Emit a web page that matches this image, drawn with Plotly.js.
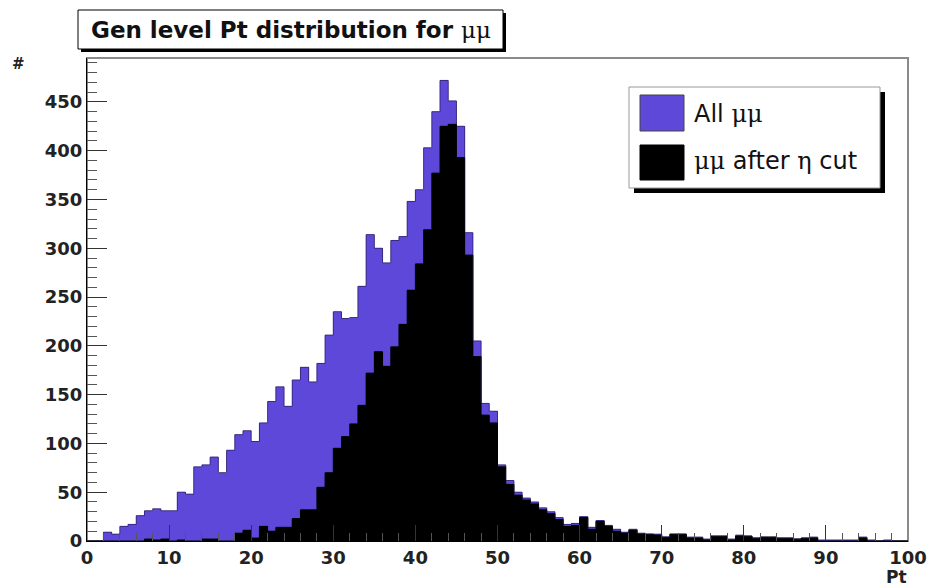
<!DOCTYPE html>
<html>
<head>
<meta charset="utf-8">
<script src="https://cdn.plot.ly/plotly-3.0.1.min.js"></script>
<style>html,body{margin:0;padding:0;background:#fff;}#chart{width:927px;height:586px;}</style>
</head>
<body>
<div id="chart"></div>
<script>
// Bin edges (Pt), 100 bins of width 1 from 0 to 100
const binEdges = [0,1,2,3,4,5,6,7,8,9,10,11,12,13,14,15,16,17,18,19,20,21,22,23,24,25,26,27,28,29,30,31,32,33,34,35,36,37,38,39,40,41,42,43,44,45,46,47,48,49,50,51,52,53,54,55,56,57,58,59,60,61,62,63,64,65,66,67,68,69,70,71,72,73,74,75,76,77,78,79,80,81,82,83,84,85,86,87,88,89,90,91,92,93,94,95,96,97,98,99,100];

// All mu-mu counts per bin
const allMuMu = [0,0,9,7,15,17,26,31,33,31,
  31,50,48,76,78,86,70,93,109,113,
  102,121,143,158,138,165,178,163,182,211,
  235,228,229,261,314,300,285,308,312,348,
  360,403,440,472,451,425,316,205,141,133,
  78,62,50,44,40,34,30,24,17,18,
  25,14,21,16,12,9,12,8,7,7,
  4,7,7,4,4,2,5,5,2,6,
  5,3,4,4,3,3,2,3,4,1,
  1,1,1,1,4,1,0,1,0,0];

// mu-mu after eta cut counts per bin
const afterEtaCut = [0,0,0,0,0,0,0,2,1,2,
  0,1,0,0,2,2,0,0,8,11,
  3,15,10,14,14,23,32,32,55,70,
  95,107,120,139,172,194,179,199,222,257,
  284,319,377,425,427,393,293,189,129,121,
  76,58,47,42,38,32,28,22,15,16,
  24,12,20,15,10,8,11,7,7,6,
  4,7,7,3,3,1,5,5,1,5,
  5,3,4,4,3,3,2,3,3,0,
  0,0,0,0,3,0,0,0,0,0];

const seriesNames = ['All \u03bc\u03bc', '\u03bc\u03bc after \u03b7 cut'];
const titleText = 'Gen level Pt distribution for ';
const xTitle = 'Pt';
const yTitle = '#';

const centers = binEdges.slice(0, -1).map((e, i) => (e + binEdges[i + 1]) / 2);
const stepY = v => v.concat([v[v.length - 1]]);

const purple = '#5e48d9';
const traces = [
  {type: 'bar', x: centers, y: allMuMu, width: 1, name: seriesNames[0], marker: {color: purple, line: {width: 0}}, showlegend: false, hoverinfo: 'x+y'},
  {type: 'scatter', mode: 'lines', x: binEdges, y: stepY(allMuMu), line: {shape: 'hv', color: '#3a2a80', width: 1}, showlegend: false, hoverinfo: 'skip'},
  {type: 'bar', x: centers, y: afterEtaCut, width: 1, name: seriesNames[1], marker: {color: '#000000', line: {width: 0}}, showlegend: false, hoverinfo: 'x+y'},
  {type: 'scatter', mode: 'lines', x: binEdges, y: stepY(afterEtaCut), line: {shape: 'hv', color: '#000000', width: 1}, showlegend: false, hoverinfo: 'skip'}
];

// pixel -> paper helpers (plot area: x 87..908, y 58..541)
const L = 87, R = 19, T = 58, B = 45, W = 927, H = 586;
const pw = W - L - R, ph = H - T - B;
const px = p => (p - L) / pw;
const py = p => (H - B - p) / ph;

const SANS = "'DejaVu Sans', Verdana, sans-serif";
const sym = s => '<span style="font-family:\'DejaVu Serif\',\'Liberation Serif\',serif;font-weight:normal">' + s + '</span>';

const shapes = [
  // frame
  {type: 'rect', xref: 'paper', yref: 'paper', x0: 0, x1: 1, y0: 0, y1: 1, line: {color: '#8a8a8a', width: 2}, fillcolor: 'rgba(0,0,0,0)', layer: 'below'},
  // title box shadow + box
  {type: 'rect', xref: 'paper', yref: 'paper', x0: px(81), x1: px(506), y0: py(52), y1: py(13), line: {width: 0}, fillcolor: '#000'},
  {type: 'rect', xref: 'paper', yref: 'paper', x0: px(78), x1: px(503), y0: py(49), y1: py(10), line: {color: '#000', width: 1}, fillcolor: '#fff'},
  // legend shadow + box
  {type: 'rect', xref: 'paper', yref: 'paper', x0: px(634), x1: px(885), y0: py(193), y1: py(92), line: {width: 0}, fillcolor: '#000', layer: 'above'},
  {type: 'rect', xref: 'paper', yref: 'paper', x0: px(629), x1: px(880), y0: py(188), y1: py(87), line: {color: '#999', width: 1}, fillcolor: '#fff', layer: 'above'},
  // legend swatches
  {type: 'rect', xref: 'paper', yref: 'paper', x0: px(640), x1: px(684), y0: py(131), y1: py(95), line: {color: '#444', width: 1}, fillcolor: purple, layer: 'above'},
  {type: 'rect', xref: 'paper', yref: 'paper', x0: px(640), x1: px(684), y0: py(180), y1: py(145), line: {color: '#000', width: 1}, fillcolor: '#000', layer: 'above'}
];

const annotations = [
  {xref: 'paper', yref: 'paper', x: px(89), y: py(30), xanchor: 'left', yanchor: 'middle', showarrow: false,
   text: '<b>' + titleText + '</b>' + sym('\u03bc\u03bc'), font: {family: SANS, size: 23, color: '#111'}},
  {xref: 'paper', yref: 'paper', x: px(692), y: py(114), xanchor: 'left', yanchor: 'middle', showarrow: false,
   text: 'All ' + sym('\u03bc\u03bc'), font: {family: SANS, size: 24, color: '#111'}},
  {xref: 'paper', yref: 'paper', x: px(692), y: py(161), xanchor: 'left', yanchor: 'middle', showarrow: false,
   text: sym('\u03bc\u03bc') + ' after ' + sym('\u03b7') + ' cut', font: {family: SANS, size: 24, color: '#111'}},
  {xref: 'paper', yref: 'paper', x: px(909), y: py(577), xanchor: 'right', yanchor: 'middle', showarrow: false,
   text: '<b>' + xTitle + '</b>', font: {family: SANS, size: 17, color: '#222'}},
  {xref: 'paper', yref: 'paper', x: px(18), y: py(64), xanchor: 'center', yanchor: 'middle', showarrow: false,
   text: '<b>' + yTitle + '</b>', font: {family: SANS, size: 15, color: '#222'}}
];

const tickFont = {family: SANS, size: 18, weight: 'bold', color: '#222'};

const layout = {
  width: W, height: H,
  margin: {l: L, r: R, t: T, b: B, pad: 0},
  paper_bgcolor: '#fff', plot_bgcolor: '#fff',
  barmode: 'overlay', bargap: 0,
  showlegend: false,
  xaxis: {range: [0, 100], dtick: 10, tick0: 0, ticks: 'inside', ticklen: 16, tickcolor: '#333', tickwidth: 1,
    minor: {dtick: 2, ticks: 'inside', ticklen: 8, tickcolor: '#555', showgrid: false},
    showline: true, linecolor: '#000', linewidth: 1, showgrid: false, zeroline: false, tickfont: tickFont, fixedrange: true},
  yaxis: {range: [0, 495], dtick: 50, tick0: 0, ticks: 'inside', ticklen: 20, tickcolor: '#333', tickwidth: 1,
    minor: {dtick: 10, ticks: 'inside', ticklen: 10, tickcolor: '#555', showgrid: false},
    showline: true, linecolor: '#000', linewidth: 1, showgrid: false, zeroline: false, tickfont: tickFont, fixedrange: true},
  shapes: shapes,
  annotations: annotations
};

Plotly.newPlot('chart', traces, layout, {staticPlot: true, displayModeBar: false});
</script>
</body>
</html>
